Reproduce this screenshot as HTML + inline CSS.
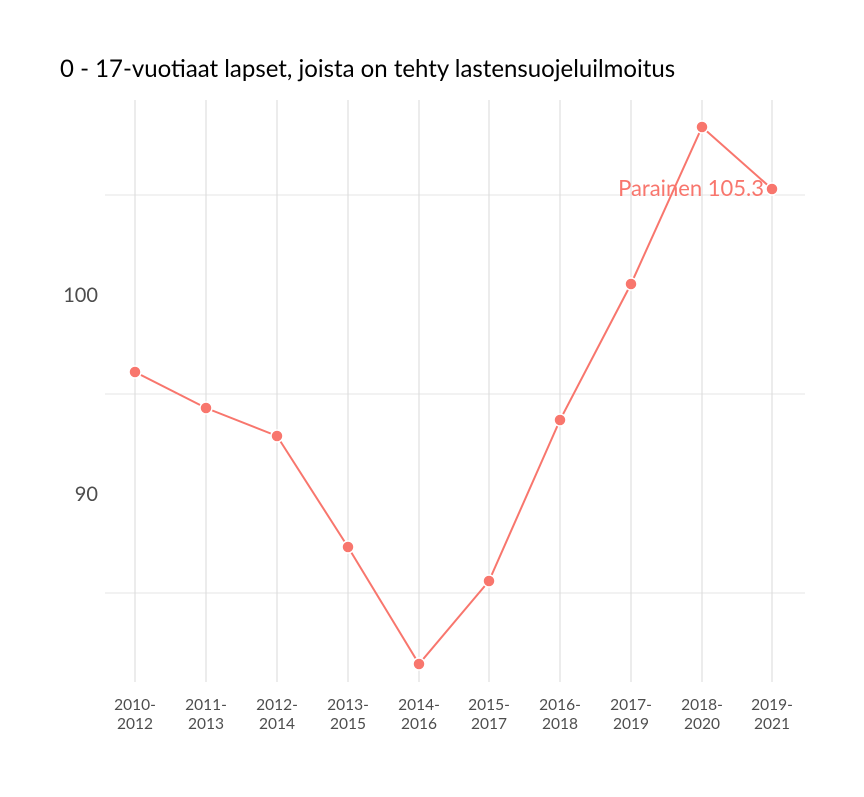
<!DOCTYPE html>
<html><head><style>body{margin:0;background:#fff}</style></head><body>
<svg width="864" height="792" xmlns="http://www.w3.org/2000/svg" font-family="Lato, 'Liberation Sans', sans-serif">
<rect width="864" height="792" fill="#fff"/>
<text x="60" y="77" font-size="24" fill="#000">0 - 17-vuotiaat lapset, joista on tehty lastensuojeluilmoitus</text>
<g stroke="#e6e6e6" stroke-width="1">
<line x1="105" x2="805" y1="195" y2="195"/><line x1="105" x2="805" y1="394" y2="394"/><line x1="105" x2="805" y1="593" y2="593"/>
</g>
<g stroke="#dadada" stroke-width="1">
<line x1="135" x2="135" y1="100" y2="682"/><line x1="206" x2="206" y1="100" y2="682"/><line x1="277" x2="277" y1="100" y2="682"/><line x1="348" x2="348" y1="100" y2="682"/><line x1="419" x2="419" y1="100" y2="682"/><line x1="489" x2="489" y1="100" y2="682"/><line x1="560" x2="560" y1="100" y2="682"/><line x1="631" x2="631" y1="100" y2="682"/><line x1="702" x2="702" y1="100" y2="682"/><line x1="772" x2="772" y1="100" y2="682"/>
</g>
<text x="98" y="302" font-size="20" fill="#4d4d4d" text-anchor="end">100</text>
<text x="98" y="501" font-size="20" fill="#4d4d4d" text-anchor="end">90</text>
<polyline fill="none" stroke="#f8766d" stroke-width="2" points="135,372 206,408 277,436 348,547 419,664 489,581 560,420 631,284 702,127 772,189"/>
<g fill="#f8766d" stroke="#fff" stroke-width="1.5">
<circle cx="135" cy="372" r="6"/><circle cx="206" cy="408" r="6"/><circle cx="277" cy="436" r="6"/><circle cx="348" cy="547" r="6"/><circle cx="419" cy="664" r="6"/><circle cx="489" cy="581" r="6"/><circle cx="560" cy="420" r="6"/><circle cx="631" cy="284" r="6"/><circle cx="702" cy="127" r="6"/><circle cx="772" cy="189" r="6"/>
</g>
<text x="764" y="196" font-size="22" fill="#f8766d" text-anchor="end">Parainen 105.3</text>
<g font-size="15.5" fill="#4d4d4d" text-anchor="middle">
<text x="135" y="710">2010-</text><text x="135" y="729">2012</text>
<text x="206" y="710">2011-</text><text x="206" y="729">2013</text>
<text x="277" y="710">2012-</text><text x="277" y="729">2014</text>
<text x="348" y="710">2013-</text><text x="348" y="729">2015</text>
<text x="419" y="710">2014-</text><text x="419" y="729">2016</text>
<text x="489" y="710">2015-</text><text x="489" y="729">2017</text>
<text x="560" y="710">2016-</text><text x="560" y="729">2018</text>
<text x="631" y="710">2017-</text><text x="631" y="729">2019</text>
<text x="702" y="710">2018-</text><text x="702" y="729">2020</text>
<text x="772" y="710">2019-</text><text x="772" y="729">2021</text>
</g>
</svg>
</body></html>
